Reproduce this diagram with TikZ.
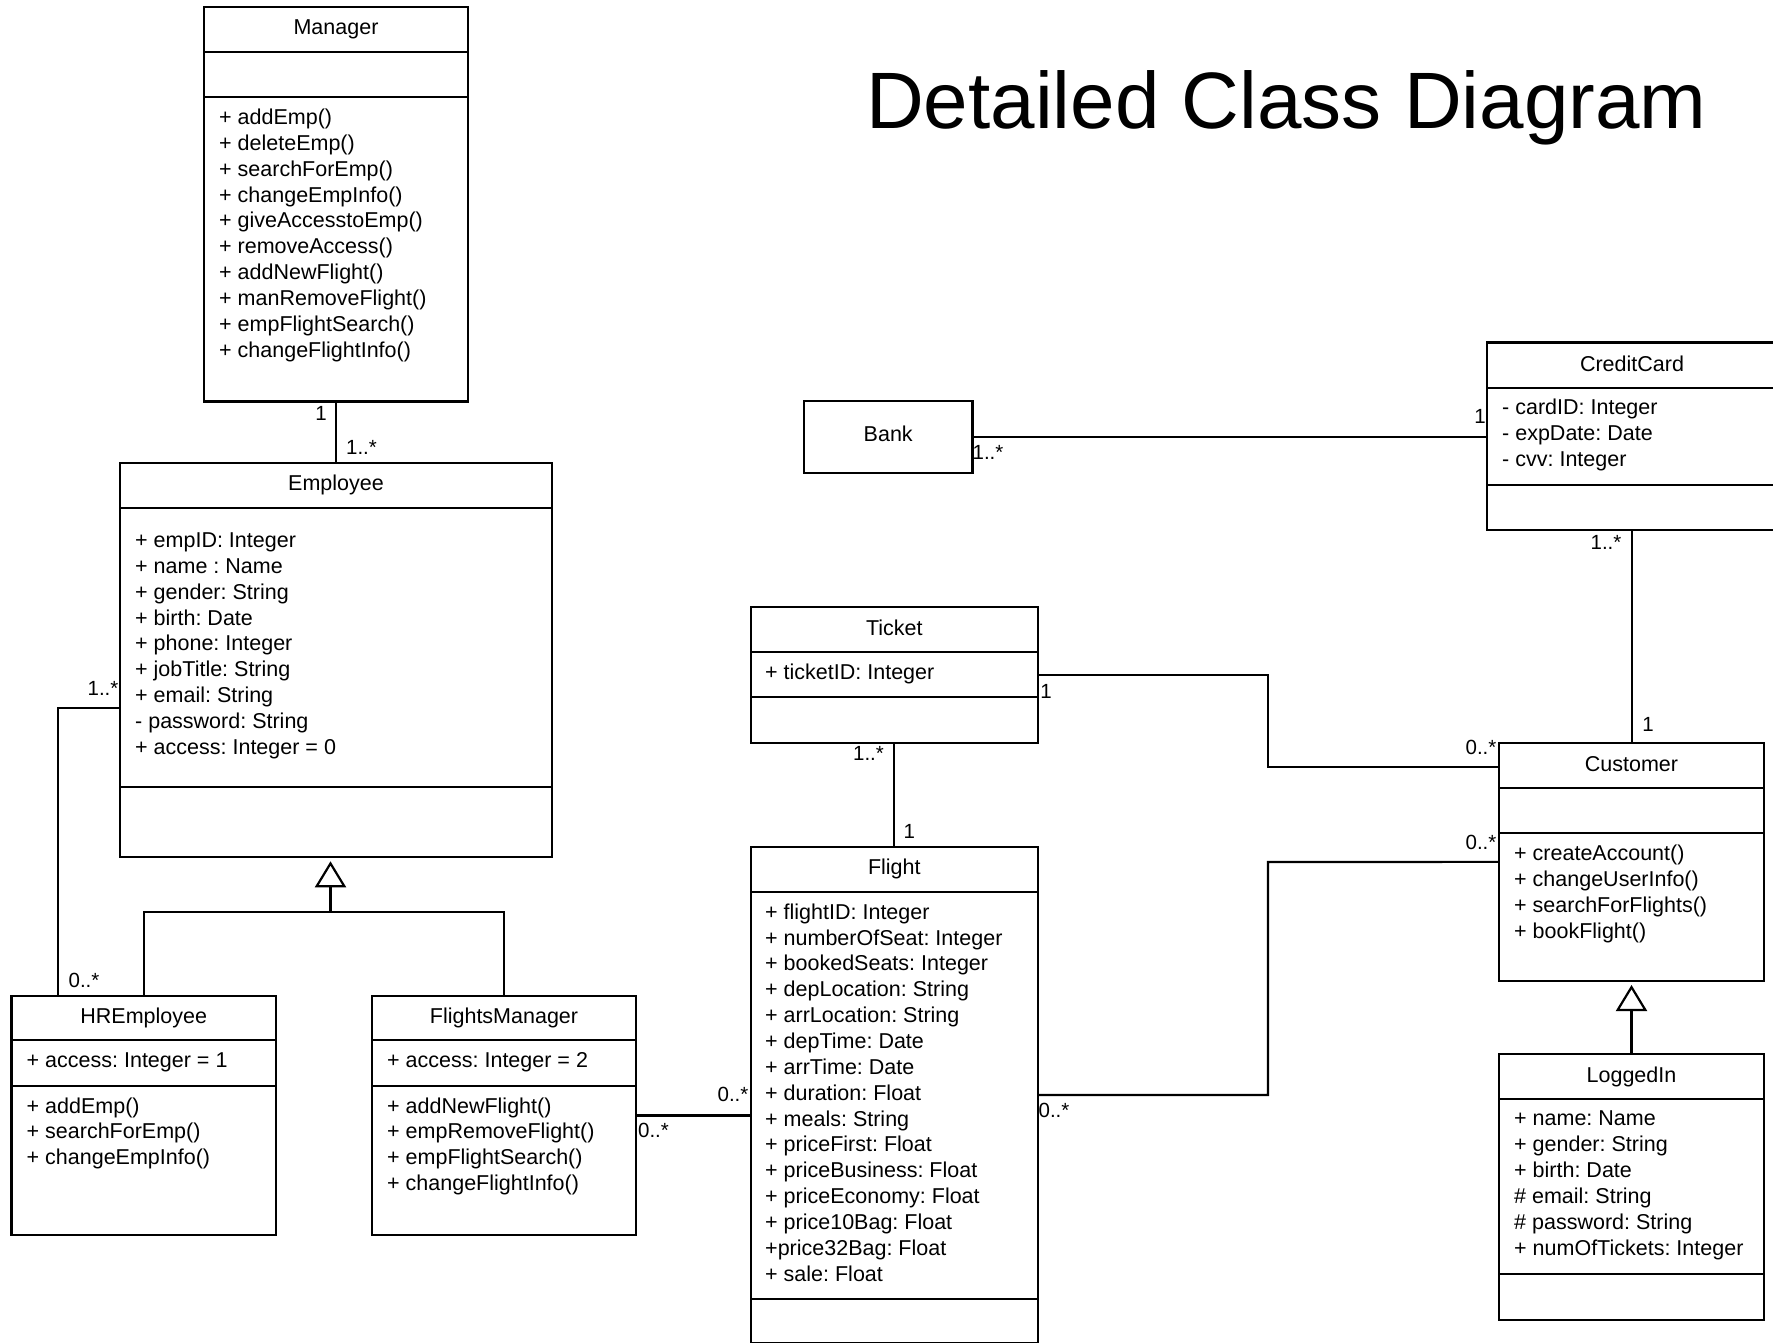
\documentclass[tikz,border=0pt]{standalone}
\usepackage{fontspec}
\setmainfont{Liberation Sans}
\usetikzlibrary{arrows.meta}
\frenchspacing

% one horizontal compartment line across a class box
\newcommand\compsep[2]{\draw[sep] (#1.west |- 0,#2) -- (#1.east |- 0,#2);}
% a list of members, one node per line: prefix, x, first baseline, entries
\newcommand\memberlist[4]{%
  \foreach [count=\i] \entry in {#4}
    {\node[member] (#1-\i) at (#2, {#3+25.86*(\i-1)}) {\entry};}}

\begin{document}
\begin{tikzpicture}[x=1pt,y=-1pt,
  box/.style={draw, rectangle, line width=2.2pt, inner sep=0pt, outer sep=0pt, anchor=north west},
  sep/.style={line width=2.2pt},
  cname/.style={inner sep=0pt, anchor=base, font=\fontsize{21.5}{25.9}\selectfont\frenchspacing},
  member/.style={inner sep=0pt, anchor=base west, font=\fontsize{21.5}{25.9}\selectfont\frenchspacing},
  mult/.style={inner sep=0pt, font=\fontsize{20.5}{24}\selectfont},
  assoc/.style={line width=2.2pt},
  inherit/.style={line width=2.2pt, shorten >=4pt,
    -{Triangle[open, length=26pt, width=31pt, line width=2.2pt]}}
]
\clip (0,0) rectangle (1773,1342);
\fill[white] (0,0) rectangle (1773,1342);

% heading
\node[inner sep=0pt, anchor=base west, font=\fontsize{80}{90}\selectfont] (heading) at (866,128.3) {Detailed Class Diagram};

% ---------- Manager ----------
\node[box, minimum width=264pt, minimum height=394.5pt] (manager) at (204,7) {};
\compsep{manager}{52}
\compsep{manager}{97}
\node[cname] (manager-name) at (336,34.5) {Manager};
\memberlist{manager-op}{219}{124.5}{+ addEmp(), + deleteEmp(), + searchForEmp(), + changeEmpInfo(), + giveAccesstoEmp(), + removeAccess(), + addNewFlight(), + manRemoveFlight(), + empFlightSearch(), + changeFlightInfo()}

% ---------- Employee ----------
\node[box, minimum width=432pt, minimum height=394.6pt] (employee) at (120,462.7) {};
\compsep{employee}{508.3}
\compsep{employee}{786.7}
\node[cname] (employee-name) at (336,490.5) {Employee};
\memberlist{employee-at}{135}{547.5}{+ empID: Integer, + name : Name, + gender: String, + birth: Date, + phone: Integer, + jobTitle: String, + email: String, - password: String, + access: Integer = 0}

% ---------- HREmployee ----------
\node[box, minimum width=264.5pt, minimum height=239pt] (hr) at (11.5,996) {};
\compsep{hr}{1040.3}
\compsep{hr}{1086}
\node[cname] (hr-name) at (143.75,1023.5) {HREmployee};
\memberlist{hr-at}{26.5}{1067.5}{+ access: Integer = 1}
\memberlist{hr-op}{26.5}{1113}{+ addEmp(), + searchForEmp(), + changeEmpInfo()}

% ---------- FlightsManager ----------
\node[box, minimum width=264pt, minimum height=239pt] (fm) at (372,996) {};
\compsep{fm}{1040.3}
\compsep{fm}{1086}
\node[cname] (fm-name) at (504,1023.5) {FlightsManager};
\memberlist{fm-at}{387}{1067.5}{+ access: Integer = 2}
\memberlist{fm-op}{387}{1113}{+ addNewFlight(), + empRemoveFlight(), + empFlightSearch(), + changeFlightInfo()}

% ---------- Bank ----------
\node[box, minimum width=168.4pt, minimum height=72pt] (bank) at (804,400.7) {};
\node[cname] (bank-name) at (888.2,441.5) {Bank};

% ---------- CreditCard ----------
\node[box, minimum width=290pt, minimum height=187.5pt] (cc) at (1487,342.5) {};
\compsep{cc}{388.3}
\compsep{cc}{485}
\node[cname] (cc-name) at (1632,371) {CreditCard};
\memberlist{cc-at}{1502}{414.8}{- cardID: Integer, - expDate: Date, - cvv: Integer}

% ---------- Ticket ----------
\node[box, minimum width=287.4pt, minimum height=136pt] (ticket) at (750.6,606.7) {};
\compsep{ticket}{652}
\compsep{ticket}{697.3}
\node[cname] (ticket-name) at (894.3,635) {Ticket};
\memberlist{ticket-at}{765}{679}{+ ticketID: Integer}

% ---------- Flight ----------
\node[box, minimum width=287.4pt, minimum height=496.6pt] (flight) at (750.6,846.7) {};
\compsep{flight}{891.6}
\compsep{flight}{1299.3}
\node[cname] (flight-name) at (894.3,874.5) {Flight};
\memberlist{flight-at}{765}{919.2}{+ flightID: Integer, + numberOfSeat: Integer, + bookedSeats: Integer, + depLocation: String, + arrLocation: String, + depTime: Date, + arrTime: Date, + duration: Float, + meals: String, + priceFirst: Float, + priceBusiness: Float, + priceEconomy: Float, + price10Bag: Float, +price32Bag: Float, + sale: Float}

% ---------- Customer ----------
\node[box, minimum width=265pt, minimum height=238.3pt] (customer) at (1499,742.7) {};
\compsep{customer}{788}
\compsep{customer}{833}
\node[cname] (customer-name) at (1631.5,771) {Customer};
\memberlist{customer-op}{1514}{860.5}{+ createAccount(), + changeUserInfo(), + searchForFlights(), + bookFlight()}

% ---------- LoggedIn ----------
\node[box, minimum width=265pt, minimum height=265.7pt] (loggedin) at (1499,1054) {};
\compsep{loggedin}{1099}
\compsep{loggedin}{1273.6}
\node[cname] (loggedin-name) at (1631.5,1082) {LoggedIn};
\memberlist{loggedin-at}{1514}{1125.8}{+ name: Name, + gender: String, + birth: Date, \# email: String, \# password: String, + numOfTickets: Integer}

% ---------- generalizations ----------
\coordinate (gj) at (330.5,911.7);
\draw[assoc] (hr.north) |- (gj) -| (fm.north);
\draw[inherit] (gj) -- (employee.south -| gj);
\draw[inherit] (loggedin.north) -- (customer.south);

% ---------- associations ----------
\draw[assoc] (manager.south) -- (employee.north);
\coordinate (ehbend) at (58,707.7);
\draw[assoc] (employee.west |- ehbend) -- (ehbend) -- (hr.north -| ehbend);
\draw[assoc] (fm.east) -- (fm.east -| flight.west);
\draw[assoc] (bank.east) -- (bank.east -| cc.west);
\draw[assoc] (cc.south) -- (cc.south |- customer.north);
\draw[assoc] (ticket.south) -- (flight.north);
\coordinate (tcbend) at (1268,767);
\draw[assoc] (ticket.east) -| (tcbend) -- (tcbend -| customer.west);
\coordinate (fcbend) at (1268,862);
\draw[assoc] (flight.east) -| (fcbend) -- (customer.west);

% ---------- multiplicities ----------
\node[mult] (m-man) at (321,413) {1};
\node[mult] (m-emp-top) at (361.5,447) {1..*};
\node[mult] (m-emp-left) at (103,688) {1..*};
\node[mult] (m-hr) at (84,980) {0..*};
\node[mult] (m-fm) at (653.5,1130) {0..*};
\node[mult] (m-fl-left) at (733,1094) {0..*};
\node[mult] (m-bank) at (988,452) {1..*};
\node[mult] (m-cc-left) at (1480,416) {1};
\node[mult] (m-cc-bot) at (1606,542) {1..*};
\node[mult] (m-cu-top) at (1648,724) {1};
\node[mult] (m-tk-right) at (1046,691) {1};
\node[mult] (m-cu-tk) at (1481,747) {0..*};
\node[mult] (m-tk-bot) at (868.5,753.4) {1..*};
\node[mult] (m-fl-top) at (909.4,831.4) {1};
\node[mult] (m-fl-right) at (1054,1110.4) {0..*};
\node[mult] (m-cu-fl) at (1481,842) {0..*};
\end{tikzpicture}
\end{document}
